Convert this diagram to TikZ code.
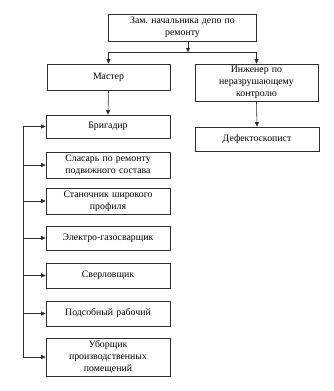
\documentclass[tikz,border=0pt]{standalone}
\usepackage{fontspec}
\setmainfont{Liberation Serif}
\usetikzlibrary{positioning,arrows.meta,calc}
\definecolor{lgray}{RGB}{45,45,45}
\tikzset{
  unit/.style={draw=lgray,line width=0.6pt,align=center,inner sep=1pt,text width=#1},
  unit/.default=118pt,
  link/.style={-{Triangle[length=4.5pt,width=4pt]},line width=0.6pt,draw=lgray}
}

\begin{document}
\begin{tikzpicture}[x=1pt,y=-1pt,font=\fontsize{9.8}{12}\selectfont]
    \useasboundingbox (0,0) rectangle (334,391);
    \node[unit=142pt,minimum width=148pt,minimum height=27pt] (head) at (182.5,27.5) {Зам.\ начальника депо по\\ремонту};
    \node[unit,minimum width=123pt,minimum height=26pt] (master) at (108.5,77) {Мастер};
    \node[unit,minimum width=123pt,minimum height=37pt] (ingen) at (256.5,82.5) {Инженер по\\неразрушающему\\контролю};
    \node[unit,minimum width=124pt,minimum height=24pt] (defekt) at (257,139) {Дефектоскопист};
    \node[unit,minimum width=124pt,minimum height=23pt] (brig) at (108,126.5) {Бригадир};
    \node[unit,minimum width=124pt,minimum height=26pt] (sles) at (108,165) {Сласарь по ремонту\\подвижного состава};
    \node[unit,minimum width=124pt,minimum height=26pt] (stan) at (108,201) {Станочник широкого\\профиля};
    \node[unit,minimum width=124pt,minimum height=24pt] (elek) at (108,238) {Электро-газосварщик};
    \node[unit,minimum width=124pt,minimum height=25pt] (sverl) at (108,275.5) {Сверловщик};
    \node[unit,minimum width=124pt,minimum height=25pt] (podsob) at (108,313.5) {Подсобный рабочий};
    \node[unit,minimum width=124pt,minimum height=38pt] (ubor) at (108,357) {Уборщик\\производственных\\помещений};
    % top branch
    \coordinate (fork) at ($(head.south)+(5.5,11)$);
    \draw[link] ([xshift=5.5pt]head.south) -- (fork);
    \draw[lgray,line width=0.6pt] (master.north |- fork) -- (ingen.north |- fork);
    \draw[link] (master.north |- fork) -- (master.north);
    \draw[link] (ingen.north |- fork) -- (ingen.north);
    \draw[link] (master.south) -- (brig.north);
    \draw[link] (ingen.south) -- (defekt.north);
    % left bus
    \coordinate (bus) at (23,0);
    \draw[lgray,line width=0.6pt] (bus |- brig.west) -- (bus |- ubor.west);
    \foreach \n in {brig,sles,stan,elek,sverl,podsob,ubor}
      \draw[link] (bus |- \n.west) -- (\n.west);
\end{tikzpicture}
\end{document}
